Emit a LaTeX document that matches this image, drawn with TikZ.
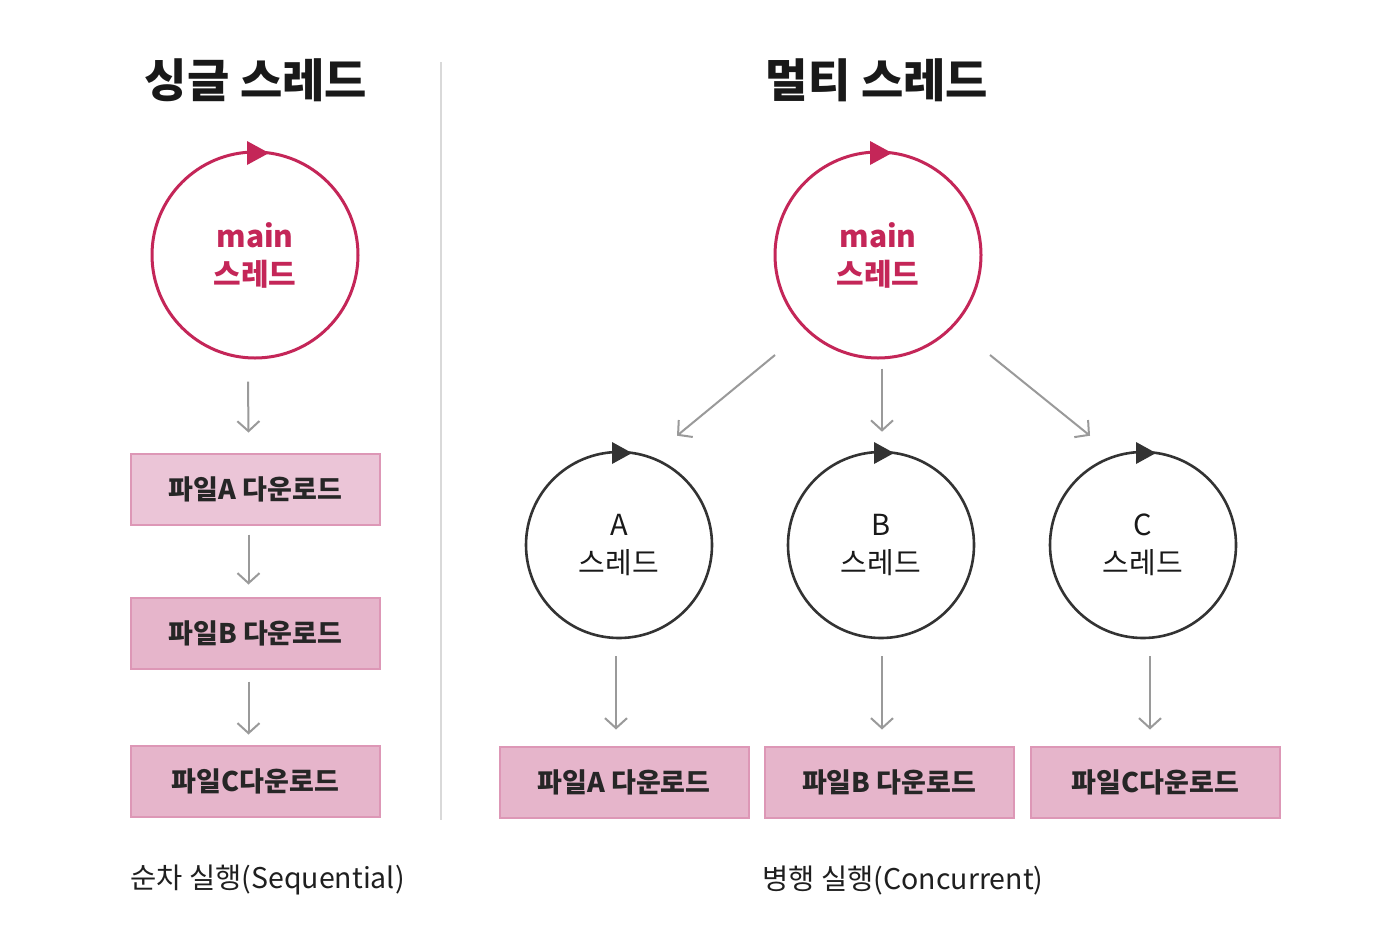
\documentclass[tikz,border=0pt]{standalone}
\usepackage{fontspec}
\setmainfont{Noto Sans CJK KR}
\newfontfamily\kr{Noto Sans CJK KR}
\usetikzlibrary{arrows.meta}
\definecolor{crim}{HTML}{C42658}
\definecolor{pinkA}{HTML}{EBC5D7}
\definecolor{pinkB}{HTML}{E6B5CB}
\definecolor{pinkE}{HTML}{DD97B6}
\definecolor{arrg}{HTML}{9A9A9A}
\definecolor{dark}{HTML}{333333}
\begin{document}
\begin{tikzpicture}[x=1pt,y=-1pt,
  title/.style={font=\kr\bfseries\fontsize{46}{50}\selectfont, text=black!90},
  maincirc/.style={circle, draw=crim, line width=3pt, minimum size=206pt, inner sep=0pt, align=center,
     font=\kr\bfseries\fontsize{30}{38}\selectfont, text=crim},
  thr/.style={circle, draw=dark, line width=2.6pt, minimum size=186pt, inner sep=0pt, align=center,
     font=\kr\fontsize{29}{38}\selectfont, text=black!90},
  box/.style={rectangle, draw=pinkE, line width=2pt, fill=pinkB, minimum width=249pt, minimum height=71pt,
     font=\kr\bfseries\fontsize{27}{30}\selectfont, text=black!85},
  garr/.style={draw=arrg, line width=2pt, -{Straight Barb[length=10pt,width=22pt,line width=2pt]}},
  captext/.style={font=\kr\fontsize{28.5}{32}\selectfont, text=black!88, anchor=west},
]
\useasboundingbox (0,0) rectangle (1380,938);
\fill[white] (0,0) rectangle (1380,938);

% divider
\draw[black!15, line width=1.5pt] (441,62) -- (441,820);

% titles
\node[title] (t1) at (256,80) {싱글 스레드};
\node[title] (t2) at (877,80) {멀티 스레드};

% single thread
\node[maincirc] (m1) at (255,255) {main\\[0pt]스레드};
\fill[crim] (247,141) -- (269,153) -- (247,165) -- cycle;

\node[box, fill=pinkA] (sa) at (255.5,489) {파일A 다운로드};
\node[box] (sb) at (255.5,633) {파일B 다운로드};
\node[box] (sc) at (255.5,781) {파일C다운로드};

\draw[garr] ([xshift=-7pt,yshift=-22pt]m1.south) -- ([xshift=-7pt,yshift=20pt]sa.north);
\draw[garr] ([xshift=-7pt,yshift=-9pt]sa.south) -- ([xshift=-7pt,yshift=12pt]sb.north);
\draw[garr] ([xshift=-7pt,yshift=-12pt]sb.south) -- ([xshift=-7pt,yshift=10pt]sc.north);

% multi thread
\node[maincirc] (m2) at (878,255) {main\\[0pt]스레드};
\fill[crim] (870,141) -- (892,153) -- (870,165) -- cycle;

\node[thr] (ta) at (619,545) {A\\[0pt]스레드};
\node[thr] (tb) at (881,545) {B\\[0pt]스레드};
\node[thr] (tc) at (1143,545) {C\\[0pt]스레드};
\fill[dark] (612,442) -- (632,453) -- (612,464) -- cycle;
\fill[dark] (874,442) -- (894,453) -- (874,464) -- cycle;
\fill[dark] (1136,442) -- (1156,453) -- (1136,464) -- cycle;

\coordinate (ma) at (775,355);
\coordinate (mc) at (990,355);
\draw[garr] (ma) -- ([xshift=58pt,yshift=15pt]ta.north);
\draw[garr] ([xshift=4pt,yshift=-9pt]m2.south) -- ([xshift=1pt,yshift=19pt]tb.north);
\draw[garr] (mc) -- ([xshift=-53pt,yshift=15pt]tc.north);

\node[box] (ba) at (624,782) {파일A 다운로드};
\node[box] (bb) at (889,782) {파일B 다운로드};
\node[box] (bc) at (1155.5,782) {파일C다운로드};

\draw[garr] ([xshift=-3pt,yshift=-17pt]ta.south) -- ([xshift=-8pt,yshift=16pt]ba.north);
\draw[garr] ([xshift=1pt,yshift=-17pt]tb.south) -- ([xshift=-7pt,yshift=16pt]bb.north);
\draw[garr] ([xshift=7pt,yshift=-17pt]tc.south) -- ([xshift=-5.5pt,yshift=16pt]bc.north);

% captions
\node[captext] (c1) at (127,880) {순차 실행(Sequential)};
\node[captext] (c2) at (759,880) {병행 실행(Concurrent)};
\end{tikzpicture}
\end{document}
